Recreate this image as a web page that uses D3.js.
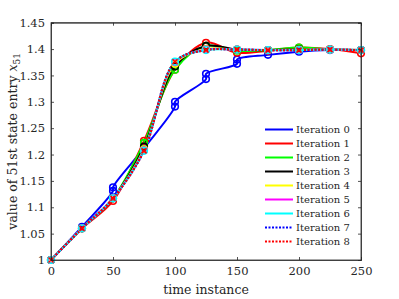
<!DOCTYPE html>
<html>
  <head>
    <script src="https://cdn.jsdelivr.net/npm/d3@7/dist/d3.min.js"></script>
    <style>
      body { margin: 0; background: #fff; }
    </style>
  </head>
  <body>
    <svg width="399" height="299" id="mainsvg"></svg>
    <script>
      // data
      const times = [0, 25, 50, 75, 100, 125, 150, 175, 200, 225, 250];
      // iteration 0 has double points (jumps) at some instances
      const times0 = [0, 25, 50, 50, 75, 100, 100, 125, 125, 150, 150, 175, 200, 225, 250];
      const iter0 = [1.0, 1.063, 1.131, 1.138, 1.212, 1.291, 1.300, 1.343, 1.353, 1.372, 1.380, 1.389, 1.395, 1.398, 1.398];
      const iter1 = [1.0, 1.06, 1.112, 1.226, 1.361, 1.412, 1.393, 1.397, 1.403, 1.400, 1.392];
      const iter2 = [1.0, 1.06, 1.117, 1.222, 1.361, 1.406, 1.397, 1.398, 1.403, 1.399, 1.398];
      const iter3 = [1.0, 1.06, 1.117, 1.215, 1.367, 1.406, 1.399, 1.398, 1.400, 1.399, 1.398];
      const iter4 = [1.0, 1.06, 1.117, 1.210, 1.372, 1.400, 1.399, 1.398, 1.399, 1.399, 1.398];
      const iter5 = [1.0, 1.06, 1.117, 1.208, 1.375, 1.399, 1.399, 1.398, 1.398, 1.399, 1.398];
      const iter6 = [1.0, 1.06, 1.117, 1.207, 1.376, 1.398, 1.399, 1.398, 1.398, 1.399, 1.398];
      const iter7 = [1.0, 1.06, 1.117, 1.207, 1.376, 1.398, 1.399, 1.398, 1.398, 1.399, 1.398];
      const iter8 = [1.0, 1.06, 1.117, 1.207, 1.376, 1.398, 1.399, 1.398, 1.398, 1.399, 1.398];
      const names = ["Iteration 0", "Iteration 1", "Iteration 2", "Iteration 3", "Iteration 4",
                     "Iteration 5", "Iteration 6", "Iteration 7", "Iteration 8"];
      const colors = ["#0000ff", "#ff0000", "#00ff00", "#000000", "#ffff00",
                      "#ff00ff", "#00ffff", "#0000ff", "#ff0000"];
      const xTicks = [0, 50, 100, 150, 200, 250];
      const yTicks = [1, 1.05, 1.1, 1.15, 1.2, 1.25, 1.3, 1.35, 1.4, 1.45];

      const FONT = "'DejaVu Serif', serif";

      const series = [
        { x: times0, y: iter0 },
        { x: times, y: iter1 },
        { x: times, y: iter2 },
        { x: times, y: iter3 },
        { x: times, y: iter4 },
        { x: times, y: iter5 },
        { x: times, y: iter6 },
        { x: times, y: iter7 },
        { x: times, y: iter8 },
      ].map((s, i) => ({
        name: names[i],
        color: colors[i],
        dotted: i >= 7,
        marker: i === 8 ? "x" : i === 7 ? "none" : "o",
        pts: s.x.map((t, j) => [t, s.y[j]]),
      }));

      const svg = d3.select("#mainsvg");
      const margin = { left: 51, top: 22.7, right: 38, bottom: 39 };
      const width = +svg.attr("width"), height = +svg.attr("height");
      const innerWidth = width - margin.left - margin.right;
      const innerHeight = height - margin.top - margin.bottom;

      const x = d3.scaleLinear().domain([0, 250]).range([0, innerWidth]);
      const y = d3.scaleLinear().domain([1, 1.45]).range([innerHeight, 0]);

      const g = svg.append("g").attr("transform", `translate(${margin.left}, ${margin.top})`);

      // curves
      const line = d3.line()
        .x((d) => x(d[0]))
        .y((d) => y(d[1]))
        .curve(d3.curveCatmullRom.alpha(0.5));

      series.forEach((s) => {
        g.append("path")
          .datum(s.pts)
          .attr("fill", "none")
          .attr("stroke", s.color)
          .attr("stroke-width", 2)
          .attr("stroke-dasharray", s.dotted ? "2,1.5" : null)
          .attr("d", line);
      });

      // markers
      series.forEach((s) => {
        if (s.marker === "o") {
          g.selectAll(null).data(s.pts).join("circle")
            .attr("cx", (d) => x(d[0]))
            .attr("cy", (d) => y(d[1]))
            .attr("r", 3.3)
            .attr("fill", "none")
            .attr("stroke", s.color)
            .attr("stroke-width", 1.6);
        } else if (s.marker === "x") {
          g.selectAll(null).data(s.pts).join("path")
            .attr("transform", (d) => `translate(${x(d[0])}, ${y(d[1])})`)
            .attr("d", "M-2.5,-2.5L2.5,2.5M-2.5,2.5L2.5,-2.5")
            .attr("stroke", s.color)
            .attr("stroke-width", 1.6);
        }
      });

      // box and axes
      const axisColor = "#262626";
      g.append("rect")
        .attr("width", innerWidth).attr("height", innerHeight)
        .attr("fill", "none").attr("stroke", axisColor).attr("stroke-width", 0.8);

      g.append("g").attr("transform", `translate(0, ${innerHeight})`)
        .call(d3.axisBottom(x).tickValues(xTicks).tickSize(-3).tickPadding(7).tickFormat(d3.format("")));
      g.append("g")
        .call(d3.axisTop(x).tickValues(xTicks).tickSize(-3).tickFormat(""));
      g.append("g")
        .call(d3.axisLeft(y).tickValues(yTicks).tickSize(-3).tickPadding(6).tickFormat((d) => d3.format("")(+d.toFixed(2))));
      g.append("g").attr("transform", `translate(${innerWidth}, 0)`)
        .call(d3.axisRight(y).tickValues(yTicks).tickSize(-3).tickFormat(""));

      g.selectAll(".domain").attr("stroke", axisColor).attr("stroke-width", 0.8);
      g.selectAll(".tick line").attr("stroke", axisColor).attr("stroke-width", 0.8);
      g.selectAll("g").attr("font-family", FONT);
      g.selectAll(".tick text").attr("font-size", 11.5).attr("font-family", FONT).attr("fill", axisColor);

      // axis labels
      svg.append("text")
        .attr("x", margin.left + innerWidth / 2)
        .attr("y", 294)
        .attr("text-anchor", "middle")
        .attr("font-family", FONT)
        .attr("font-size", 12.5)
        .attr("fill", axisColor)
        .text("time instance");

      const yl = svg.append("text")
        .attr("transform", `translate(17, ${margin.top + innerHeight / 2}) rotate(-90)`)
        .attr("text-anchor", "middle")
        .attr("font-family", FONT)
        .attr("fill", axisColor)
        .attr("font-size", 12.5);
      yl.append("tspan").text("value of 51st state entry ");
      yl.append("tspan").attr("font-style", "italic").text("x");
      yl.append("tspan").attr("font-size", 9).attr("dy", 3).text("51");

      // legend
      const legend = svg.append("g").attr("transform", "translate(265, 129.5)");
      const rows = legend.selectAll("g").data(series).join("g")
        .attr("transform", (d, i) => `translate(0, ${i * 14})`);
      rows.append("line")
        .attr("x1", 0).attr("x2", 28)
        .attr("stroke", (d) => d.color)
        .attr("stroke-width", 2)
        .attr("stroke-dasharray", (d) => (d.dotted ? "2,1.5" : null));
      rows.append("text")
        .attr("x", 31)
        .attr("dy", "0.35em")
        .attr("font-family", FONT)
        .attr("fill", axisColor)
        .attr("font-size", 10)
        .text((d) => d.name);
    </script>
  </body>
</html>
